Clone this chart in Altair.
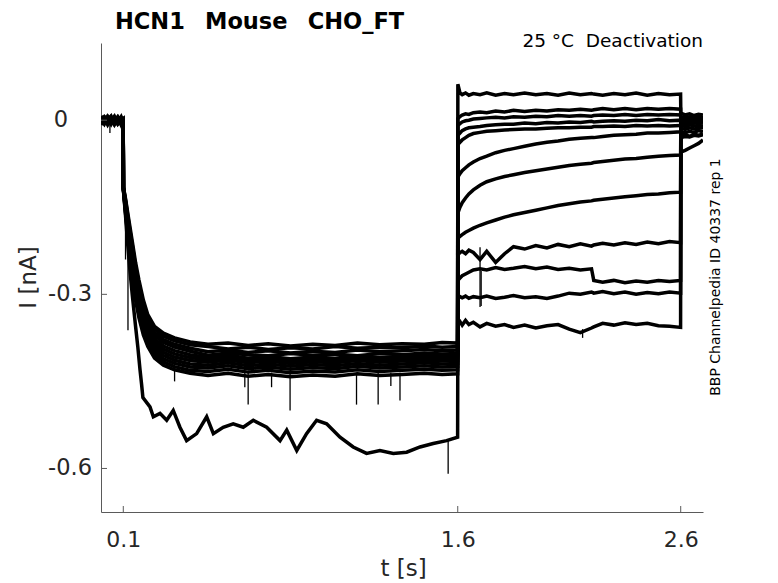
import altair as alt
import pandas as pd

# ---------------- data ----------------
X_TICKS = [0.1, 1.6, 2.6]
Y_TICKS = [-0.6, -0.3, 0.0]
Y_LABELS = ["-0.6", "-0.3", "0"]

PRE_T = [0.0, 0.015, 0.03, 0.045, 0.06, 0.075, 0.09, 0.0995]
PRE_I = [
    [0.004, -0.003, 0.006, -0.002, 0.005, -0.004, 0.003, 0.001],
    [-0.002, 0.005, -0.004, 0.003, -0.001, 0.006, -0.003, 0.0],
    [0.007, 0.0, 0.004, -0.005, 0.002, 0.001, 0.005, -0.001],
    [-0.006, 0.002, -0.002, 0.006, -0.004, 0.003, -0.005, 0.002],
    [0.001, -0.007, 0.003, 0.0, 0.007, -0.005, 0.002, -0.002],
    [-0.004, 0.004, -0.008, 0.002, -0.003, 0.005, -0.006, 0.001],
    [0.003, -0.005, 0.001, 0.007, -0.006, 0.0, 0.004, -0.003],
    [-0.008, 0.001, 0.005, -0.003, 0.002, -0.007, 0.001, 0.003],
    [0.005, -0.002, -0.006, 0.004, 0.0, 0.004, -0.008, 0.0],
    [-0.001, 0.006, 0.002, -0.007, 0.004, -0.002, 0.006, -0.004],
    [0.002, -0.004, 0.007, 0.001, -0.008, 0.002, -0.001, 0.002],
    [-0.005, 0.003, -0.001, -0.004, 0.003, -0.006, 0.002, -0.001],
]

ACT_T = [0.1005, 0.11, 0.12, 0.13, 0.14, 0.155, 0.17, 0.19, 0.21, 0.24, 0.28, 0.33, 0.4,
         0.48, 0.57, 0.66, 0.75, 0.85, 0.95, 1.05, 1.15, 1.25, 1.35, 1.45, 1.53, 1.5995]
ACT_I = [
    [-0.115, -0.135, -0.16, -0.184, -0.208, -0.245, -0.275, -0.31, -0.335, -0.355, -0.367, -0.375, -0.382,
     -0.386, -0.384, -0.388, -0.385, -0.389, -0.386, -0.388, -0.384, -0.387, -0.385, -0.386, -0.383, -0.384],
    [-0.1155, -0.1375, -0.164, -0.19, -0.214, -0.252, -0.282, -0.316, -0.34, -0.36, -0.372, -0.38, -0.387,
     -0.39, -0.394, -0.391, -0.395, -0.392, -0.394, -0.39, -0.393, -0.391, -0.392, -0.389, -0.391, -0.39],
    [-0.116, -0.14, -0.168, -0.195, -0.221, -0.258, -0.288, -0.322, -0.346, -0.366, -0.378, -0.386, -0.393,
     -0.399, -0.396, -0.4, -0.397, -0.401, -0.398, -0.4, -0.396, -0.399, -0.397, -0.395, -0.397, -0.396],
    [-0.1165, -0.1425, -0.172, -0.201, -0.227, -0.264, -0.295, -0.328, -0.352, -0.371, -0.383, -0.391, -0.398,
     -0.405, -0.401, -0.404, -0.406, -0.402, -0.405, -0.403, -0.406, -0.402, -0.404, -0.401, -0.403, -0.402],
    [-0.117, -0.145, -0.176, -0.206, -0.234, -0.271, -0.301, -0.334, -0.357, -0.377, -0.389, -0.397, -0.404,
     -0.409, -0.405, -0.41, -0.407, -0.411, -0.408, -0.41, -0.406, -0.409, -0.407, -0.405, -0.407, -0.406],
    [-0.1175, -0.1475, -0.18, -0.212, -0.24, -0.2775, -0.3075, -0.34, -0.3625, -0.3825, -0.3945, -0.4025, -0.409,
     -0.413, -0.409, -0.414, -0.411, -0.415, -0.412, -0.414, -0.41, -0.413, -0.411, -0.409, -0.411, -0.41],
    [-0.118, -0.15, -0.184, -0.218, -0.246, -0.284, -0.314, -0.346, -0.368, -0.388, -0.4, -0.408, -0.414,
     -0.417, -0.413, -0.418, -0.415, -0.419, -0.416, -0.418, -0.414, -0.417, -0.415, -0.413, -0.415, -0.414],
    [-0.1185, -0.1525, -0.188, -0.223, -0.253, -0.2905, -0.3205, -0.352, -0.3735, -0.3935, -0.4055, -0.4135, -0.42,
     -0.422, -0.418, -0.423, -0.42, -0.424, -0.421, -0.423, -0.419, -0.422, -0.42, -0.418, -0.42, -0.419],
    [-0.119, -0.155, -0.192, -0.229, -0.259, -0.297, -0.327, -0.358, -0.379, -0.399, -0.411, -0.419, -0.425,
     -0.427, -0.423, -0.428, -0.425, -0.429, -0.426, -0.428, -0.424, -0.427, -0.425, -0.423, -0.425, -0.424],
    [-0.1195, -0.1575, -0.196, -0.234, -0.266, -0.3035, -0.3335, -0.364, -0.3845, -0.4045, -0.4165, -0.4245, -0.431,
     -0.433, -0.429, -0.434, -0.431, -0.435, -0.432, -0.434, -0.43, -0.433, -0.431, -0.429, -0.431, -0.43],
    [-0.12, -0.16, -0.2, -0.24, -0.272, -0.31, -0.34, -0.37, -0.39, -0.41, -0.422, -0.43, -0.436,
     -0.44, -0.436, -0.441, -0.438, -0.442, -0.439, -0.441, -0.437, -0.44, -0.438, -0.436, -0.438, -0.437],
]

# the one sweep with the larger activation current
BIG_T = [0.1005, 0.11, 0.12, 0.13, 0.14, 0.155, 0.165, 0.175, 0.182, 0.188, 0.2197, 0.2347, 0.2646,
         0.2946, 0.324, 0.354, 0.384, 0.429, 0.474, 0.504, 0.548, 0.593, 0.638, 0.683, 0.743, 0.803,
         0.833, 0.878, 0.922, 0.967, 1.012, 1.072, 1.131, 1.191, 1.251, 1.311, 1.371, 1.431, 1.49,
         1.55, 1.5995]
BIG_I = [-0.12, -0.165, -0.215, -0.26, -0.3, -0.355, -0.39, -0.43, -0.455, -0.478, -0.494, -0.511, -0.505,
         -0.517, -0.5, -0.529, -0.552, -0.54, -0.511, -0.54, -0.529, -0.523, -0.529, -0.517, -0.529, -0.552,
         -0.534, -0.569, -0.54, -0.517, -0.523, -0.546, -0.563, -0.574, -0.569, -0.574, -0.572, -0.563, -0.557,
         -0.552, -0.546]

DEACT_T = [1.6005, 1.61, 1.62, 1.635, 1.65, 1.67, 1.7, 1.73, 1.77, 1.81, 1.85, 1.9, 1.95, 2.0, 2.05,
           2.1, 2.15, 2.2, 2.21, 2.25, 2.3, 2.35, 2.4, 2.45, 2.5, 2.55, 2.5995]
DEACT_I = [
    [0.062, 0.047, 0.044, 0.047, 0.043, 0.046, 0.044, 0.047, 0.043, 0.046, 0.044, 0.047, 0.044, 0.046,
     0.043, 0.047, 0.044, 0.046, 0.045, 0.043, 0.046, 0.044, 0.047, 0.043, 0.046, 0.044, 0.045],
    [0.003, 0.006, 0.009, 0.011, 0.01, 0.013, 0.014, 0.013, 0.016, 0.014, 0.017, 0.015, 0.017, 0.016,
     0.018, 0.017, 0.019, 0.017, 0.018, 0.02, 0.018, 0.02, 0.018, 0.02, 0.019, 0.02, 0.019],
    [-0.009, -0.006, -0.003, -0.001, 0.0, 0.002, 0.003, 0.004, 0.005, 0.004, 0.006, 0.005, 0.007, 0.006,
     0.008, 0.007, 0.008, 0.007, 0.008, 0.009, 0.008, 0.01, 0.008, 0.01, 0.009, 0.01, 0.009],
    [-0.026, -0.022, -0.018, -0.015, -0.013, -0.012, -0.011, -0.009, -0.008, -0.007, -0.007, -0.005, -0.006,
     -0.004, -0.005, -0.003, -0.004, -0.002, -0.003, -0.002, -0.001, -0.002, 0.0, -0.001, 0.001, -0.001, 0.0],
    [-0.042, -0.038, -0.034, -0.03, -0.026, -0.023, -0.021, -0.019, -0.018, -0.017, -0.016, -0.015, -0.015,
     -0.014, -0.013, -0.013, -0.012, -0.012, -0.011, -0.011, -0.01, -0.011, -0.009, -0.01, -0.009, -0.01, -0.009],
    [-0.098, -0.092, -0.087, -0.082, -0.077, -0.072, -0.066, -0.062, -0.056, -0.052, -0.049, -0.045, -0.041,
     -0.038, -0.036, -0.033, -0.031, -0.03, -0.03, -0.028, -0.026, -0.025, -0.024, -0.022, -0.022, -0.021, -0.02],
    [-0.16, -0.15, -0.142, -0.134, -0.127, -0.12, -0.112, -0.106, -0.101, -0.097, -0.094, -0.09, -0.087,
     -0.084, -0.081, -0.078, -0.076, -0.074, -0.073, -0.071, -0.069, -0.067, -0.066, -0.064, -0.062, -0.061, -0.06],
    [-0.203, -0.2, -0.197, -0.193, -0.19, -0.186, -0.181, -0.177, -0.172, -0.167, -0.163, -0.159, -0.155,
     -0.151, -0.147, -0.144, -0.141, -0.139, -0.138, -0.136, -0.134, -0.132, -0.13, -0.128, -0.127, -0.125, -0.124],
    [-0.232, -0.228, -0.226, -0.23, -0.224, -0.228, -0.24, -0.226, -0.245, -0.23, -0.218, -0.222, -0.216,
     -0.22, -0.214, -0.218, -0.213, -0.217, -0.215, -0.212, -0.215, -0.211, -0.214, -0.21, -0.213, -0.209, -0.211],
    [-0.276, -0.272, -0.268, -0.265, -0.262, -0.258, -0.256, -0.258, -0.254, -0.257, -0.255, -0.252, -0.256,
     -0.253, -0.257, -0.255, -0.258, -0.256, -0.276, -0.279, -0.276, -0.28, -0.277, -0.279, -0.276, -0.278, -0.276],
    [-0.307, -0.304, -0.306, -0.303, -0.307, -0.304, -0.306, -0.303, -0.307, -0.305, -0.302, -0.306, -0.304,
     -0.307, -0.303, -0.298, -0.3, -0.296, -0.298, -0.295, -0.299, -0.296, -0.3, -0.297, -0.299, -0.296, -0.298],
    [-0.35, -0.347, -0.353, -0.345, -0.352, -0.348, -0.356, -0.35, -0.355, -0.352, -0.357, -0.353, -0.358,
     -0.354, -0.352, -0.36, -0.366, -0.358, -0.356, -0.35, -0.353, -0.349, -0.352, -0.35, -0.354, -0.355, -0.357],
]

POST_T = [2.6005, 2.62, 2.64, 2.66, 2.68, 2.7]
POST_I = [
    [0.012, 0.009, 0.011, 0.008, 0.01, 0.009],
    [0.006, 0.004, 0.006, 0.003, 0.005, 0.004],
    [0.001, -0.001, 0.002, 0.0, 0.001, 0.0],
    [-0.004, -0.006, -0.003, -0.005, -0.004, -0.005],
    [-0.009, -0.011, -0.008, -0.01, -0.009, -0.01],
    [-0.014, -0.016, -0.013, -0.015, -0.014, -0.013],
    [-0.02, -0.022, -0.019, -0.021, -0.018, -0.02],
    [-0.027, -0.025, -0.028, -0.024, -0.026, -0.024],
    [-0.005, -0.003, -0.006, -0.004, -0.002, -0.004],
    [0.003, 0.001, 0.004, 0.002, 0.003, 0.001],
    [-0.03, -0.028, -0.029, -0.026, -0.027, -0.025],
    [-0.055, -0.052, -0.048, -0.044, -0.04, -0.034],
]

# short noise spikes (time, upper end, lower end)
SPIKE_T = [0.04, 0.11, 0.121, 0.33, 0.645, 0.66, 0.765, 0.848, 1.146, 1.243, 1.3, 1.341, 1.557, 1.70, 1.705, 2.16]
SPIKE_TOP = [-0.005, -0.16, -0.2, -0.43, -0.435, -0.435, -0.435, -0.435, -0.435, -0.435, -0.435, -0.435,
             -0.552, -0.219, -0.26, -0.36]
SPIKE_BOT = [-0.022, -0.24, -0.362, -0.45, -0.46, -0.49, -0.46, -0.5, -0.49, -0.49, -0.458, -0.483,
             -0.609, -0.322, -0.32, -0.375]

# ---------------- table ----------------
rows = []
for k in range(12):
    act_t = ACT_T if k < 11 else BIG_T
    act_i = ACT_I[k] if k < 11 else BIG_I
    ts = PRE_T + act_t + DEACT_T + POST_T
    vs = PRE_I[k] + act_i + DEACT_I[k] + POST_I[k]
    if len(ts) != len(vs):
        raise ValueError(f"sweep {k}: {len(ts)} times vs {len(vs)} values")
    for j, (t, v) in enumerate(zip(ts, vs)):
        rows.append({"sweep": f"sweep {k + 1}", "t": t, "I": v, "k": j})
df = pd.DataFrame(rows)
spikes = pd.DataFrame({"t": SPIKE_T, "I": SPIKE_TOP, "bot": SPIKE_BOT})
ylab = pd.DataFrame({"I": Y_TICKS, "label": Y_LABELS})

W, H = 602, 469
AX = "#5a5a5a"
TXT = "#262626"
FONT = "DejaVu Sans"
NB = "\u00a0"

xscale = alt.Scale(domain=[0, 2.7], nice=False, zero=False)
yscale = alt.Scale(domain=[-0.675, 0.133], nice=False, zero=False)

xaxis = alt.Axis(
    values=X_TICKS, title="t [s]", labelExpr="toString(datum.value)", ticks=False, tickSize=0,
    grid=False, domainColor=AX, domainWidth=1, labelFontSize=22, labelColor=TXT, labelFont=FONT,
    labelPadding=17, labelFlush=False, titleFontSize=23, titleFontWeight="normal", titleColor=TXT,
    titleFont=FONT, titleX=302, titleY=63, titleBaseline="alphabetic", titleAlign="center")
yaxis = alt.Axis(
    values=Y_TICKS, title="I [nA]", labels=False, ticks=False, tickSize=0,
    grid=False, domainColor=AX, domainWidth=1, titleFontSize=23, titleFontWeight="normal",
    titleColor=TXT, titleFont=FONT, titleX=-66, titleY=234, titleBaseline="alphabetic",
    titleAlign="center", titleAngle=270)

X = alt.X("t:Q", scale=xscale, axis=xaxis)
Y = alt.Y("I:Q", scale=yscale, axis=yaxis)

lines = alt.Chart(df).mark_line(color="black", strokeWidth=3.5, clip=True).encode(
    x=X, y=Y, detail="sweep:N", order="k:Q")

spike_layer = alt.Chart(spikes).mark_rule(color="black", strokeWidth=1.3).encode(
    x=X, y=Y, y2="bot:Q")

xt = alt.Chart(pd.DataFrame({"t": X_TICKS})).mark_rule(color=AX, strokeWidth=1).encode(
    x=X, y=alt.value(H), y2=alt.value(H - 6))
yt = alt.Chart(pd.DataFrame({"I": Y_TICKS})).mark_rule(color=AX, strokeWidth=1).encode(
    y=Y, x=alt.value(0), x2=alt.value(6))

# y tick labels (MATLAB pads the "0" label, so it sits further left)
lab_style = dict(font=FONT, fontSize=22.5, color=TXT, align="right", baseline="middle")
ylabels_neg = alt.Chart(ylab).transform_filter("datum.I != 0").mark_text(**lab_style).encode(
    y=Y, x=alt.value(-9), text="label:N")
ylabels_zero = alt.Chart(ylab).transform_filter("datum.I == 0").mark_text(**lab_style).encode(
    y=Y, x=alt.value(-33), text="label:N")

one = pd.DataFrame({"a": [0]})
title_txt = alt.Chart(one).mark_text(
    font=FONT, fontSize=22.5, fontWeight="bold", color="black", align="left", baseline="alphabetic"
).encode(x=alt.value(14), y=alt.value(-14),
         text=alt.value(f"HCN1{NB}{NB}\u2009Mouse{NB}{NB}\u2009CHO_FT"))
cond_txt = alt.Chart(one).mark_text(
    font=FONT, fontSize=18.5, color="black", align="right", baseline="alphabetic"
).encode(x=alt.value(602), y=alt.value(4), text=alt.value(f"25 °C{NB}{NB}Deactivation"))
id_txt = alt.Chart(one).mark_text(
    font=FONT, fontSize=14, color="black", align="center", baseline="middle", angle=270
).encode(x=alt.value(615), y=alt.value(234), text=alt.value("BBP Channelpedia ID 40337 rep 1"))

chart = alt.layer(lines, spike_layer, xt, yt, ylabels_neg, ylabels_zero,
                  title_txt, cond_txt, id_txt).properties(
    width=W, height=H,
    autosize=alt.AutoSizeParams(type="none"),
    padding={"left": 93, "top": 35, "right": 67, "bottom": 70},
    background="white",
).configure_view(stroke=None)

chart.save("out.html", embed_options={"renderer": "svg", "actions": False})
